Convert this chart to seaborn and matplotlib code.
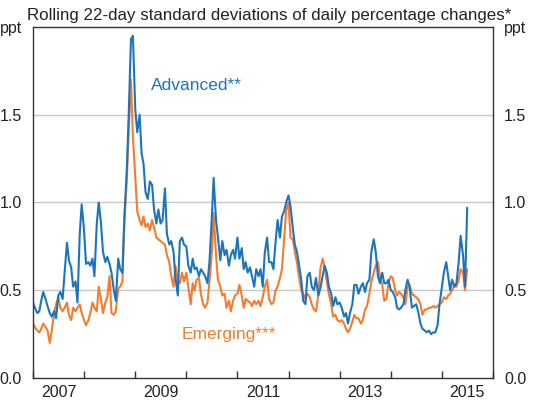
import pandas as pd
import matplotlib
matplotlib.use("Agg")
import matplotlib.pyplot as plt
import matplotlib.dates as mdates
from matplotlib.ticker import FixedLocator, FixedFormatter
import seaborn as sns

# semi-monthly readings from Jan 2007 to mid-2015, ppt
advanced = [
    0.43, 0.40, 0.37, 0.38, 0.44, 0.49, 0.45, 0.41, 0.37, 0.35, 0.38, 0.34,
    0.47, 0.49, 0.45, 0.60, 0.77, 0.67, 0.63, 0.52, 0.55, 0.43, 0.82, 0.99,
    0.84, 0.65, 0.66, 0.64, 0.68, 0.58, 0.88, 1.00, 0.88, 0.72, 0.66, 0.69,
    0.65, 0.60, 0.50, 0.44, 0.68, 0.62, 0.60, 0.92, 1.18, 1.50, 1.93, 1.95,
    1.53, 1.40, 1.50, 1.28, 1.22, 1.06, 1.02, 1.12, 1.10, 0.96, 0.88, 0.96,
    0.88, 0.90, 1.08, 0.82, 0.76, 0.78, 0.72, 0.57, 0.47, 0.78, 0.80, 0.76,
    0.75, 0.64, 0.60, 0.68, 0.62, 0.63, 0.58, 0.62, 0.60, 0.58, 0.54, 0.66,
    0.90, 1.14, 0.90, 0.80, 0.67, 0.78, 0.70, 0.73, 0.64, 0.70, 0.73, 0.68,
    0.80, 0.68, 0.74, 0.62, 0.66, 0.60, 0.63, 0.58, 0.52, 0.62, 0.58, 0.62,
    0.52, 0.71, 0.80, 0.66, 0.66, 0.62, 0.78, 0.90, 0.80, 0.92, 0.95, 1.00,
    1.04, 0.98, 0.85, 0.76, 0.72, 0.65, 0.56, 0.44, 0.42, 0.58, 0.60, 0.52,
    0.50, 0.57, 0.47, 0.51, 0.58, 0.64, 0.60, 0.52, 0.48, 0.41, 0.46, 0.42,
    0.43, 0.40, 0.35, 0.37, 0.31, 0.37, 0.42, 0.53, 0.53, 0.48, 0.52, 0.54,
    0.49, 0.54, 0.56, 0.72, 0.79, 0.72, 0.58, 0.54, 0.60, 0.54, 0.54, 0.56,
    0.50, 0.49, 0.46, 0.40, 0.39, 0.40, 0.42, 0.50, 0.56, 0.52, 0.40, 0.41,
    0.42, 0.38, 0.31, 0.28, 0.27, 0.26, 0.27, 0.25, 0.26, 0.26, 0.30, 0.42,
    0.52, 0.60, 0.66, 0.58, 0.50, 0.56, 0.52, 0.54, 0.66, 0.81, 0.70, 0.52,
    0.97,
]

emerging = [
    0.31, 0.29, 0.27, 0.26, 0.28, 0.31, 0.29, 0.27, 0.20, 0.27, 0.37, 0.42,
    0.46, 0.40, 0.38, 0.40, 0.43, 0.36, 0.33, 0.40, 0.38, 0.40, 0.42, 0.37,
    0.33, 0.30, 0.33, 0.37, 0.43, 0.40, 0.38, 0.52, 0.45, 0.37, 0.43, 0.46,
    0.58, 0.37, 0.36, 0.38, 0.51, 0.52, 0.55, 0.88, 1.12, 1.40, 1.70, 1.38,
    1.15, 0.95, 0.90, 0.87, 0.92, 0.86, 0.88, 0.84, 0.90, 0.86, 0.80, 0.79,
    0.78, 0.77, 0.76, 0.70, 0.66, 0.58, 0.52, 0.64, 0.55, 0.54, 0.60, 0.55,
    0.60, 0.52, 0.42, 0.54, 0.50, 0.56, 0.57, 0.48, 0.42, 0.40, 0.43, 0.55,
    0.70, 0.94, 0.70, 0.56, 0.52, 0.47, 0.48, 0.40, 0.44, 0.38, 0.44, 0.47,
    0.48, 0.53, 0.47, 0.40, 0.45, 0.44, 0.43, 0.41, 0.44, 0.42, 0.44, 0.41,
    0.46, 0.52, 0.56, 0.45, 0.42, 0.43, 0.50, 0.52, 0.57, 0.62, 0.80, 0.95,
    1.00, 0.80, 0.79, 0.72, 0.66, 0.58, 0.50, 0.48, 0.45, 0.48, 0.46, 0.42,
    0.39, 0.38, 0.47, 0.62, 0.68, 0.63, 0.55, 0.48, 0.42, 0.35, 0.36, 0.33,
    0.32, 0.33, 0.31, 0.28, 0.26, 0.28, 0.32, 0.36, 0.34, 0.34, 0.31, 0.33,
    0.39, 0.41, 0.48, 0.55, 0.60, 0.64, 0.66, 0.58, 0.53, 0.44, 0.45, 0.54,
    0.58, 0.57, 0.50, 0.47, 0.49, 0.48, 0.46, 0.42, 0.52, 0.53, 0.48, 0.47,
    0.46, 0.45, 0.42, 0.36, 0.39, 0.39, 0.40, 0.40, 0.41, 0.40, 0.41, 0.42,
    0.43, 0.46, 0.45, 0.47, 0.48, 0.50, 0.53, 0.52, 0.56, 0.62, 0.60, 0.50,
    0.62,
]

year_labels = ["2007", "2009", "2011", "2013", "2015"]

dates = pd.date_range("2007-01-01", periods=len(advanced), freq="SMS")
df = pd.DataFrame({"date": dates, "Advanced": advanced, "Emerging": emerging})

blue = "#1c75bc"
orange = "#f47b2f"
dark = "#333333"

sns.set_theme(style="white")
plt.rcParams["font.family"] = ["Liberation Sans", "DejaVu Sans"]

fig = plt.figure(figsize=(5.38, 4.07), dpi=100)
ax = fig.add_axes([0.0613, 0.0713, 0.855, 0.8624])

sns.lineplot(data=df, x="date", y="Emerging", color=orange, linewidth=1.5, ax=ax)
sns.lineplot(data=df, x="date", y="Advanced", color=blue, linewidth=1.5, ax=ax)

ax.set_xlim(pd.Timestamp("2007-01-01"), pd.Timestamp("2016-01-01"))
ax.set_ylim(0, 2.0)
ax.set_xlabel("")
ax.set_ylabel("")

# y axis labels on both sides, unit at top
ax.set_yticks([0, 0.5, 1.0, 1.5, 2.0])
ax.set_yticklabels(["0.0", "0.5", "1.0", "1.5", "ppt"])
ax.tick_params(axis="y", left=False, right=False, labelleft=True, labelright=True,
               labelsize=11.5, pad=2, colors="#222222")
for y in [0.5, 1.0, 1.5]:
    ax.axhline(y, color="#c8c8c8", linewidth=1, zorder=0)

# year ticks at year boundaries, labels at mid-year for odd years
ax.xaxis.set_major_locator(mdates.YearLocator(1, month=1, day=1))
ax.xaxis.set_major_formatter(plt.NullFormatter())
mid_years = [mdates.date2num(pd.Timestamp(f"{y}-07-02")) for y in year_labels]
ax.xaxis.set_minor_locator(FixedLocator(mid_years))
ax.xaxis.set_minor_formatter(FixedFormatter(year_labels))
ax.tick_params(axis="x", which="major", direction="in", length=5, width=1, color=dark, bottom=True)
ax.tick_params(axis="x", which="minor", length=0, labelsize=11.5, pad=5, colors="#222222", bottom=True)

for s in ax.spines.values():
    s.set_color(dark)
    s.set_linewidth(1)

ax.text(pd.Timestamp("2009-04-20"), 1.64, "Advanced**", color=blue, fontsize=12.5)
ax.text(pd.Timestamp("2009-12-01"), 0.22, "Emerging***", color=orange, fontsize=12.5)

fig.text(0.5, 0.962, "Rolling 22-day standard deviations of daily percentage changes*",
         ha="center", va="center", fontsize=12.2, color="#222222")

fig.savefig("out.png", dpi=100)
